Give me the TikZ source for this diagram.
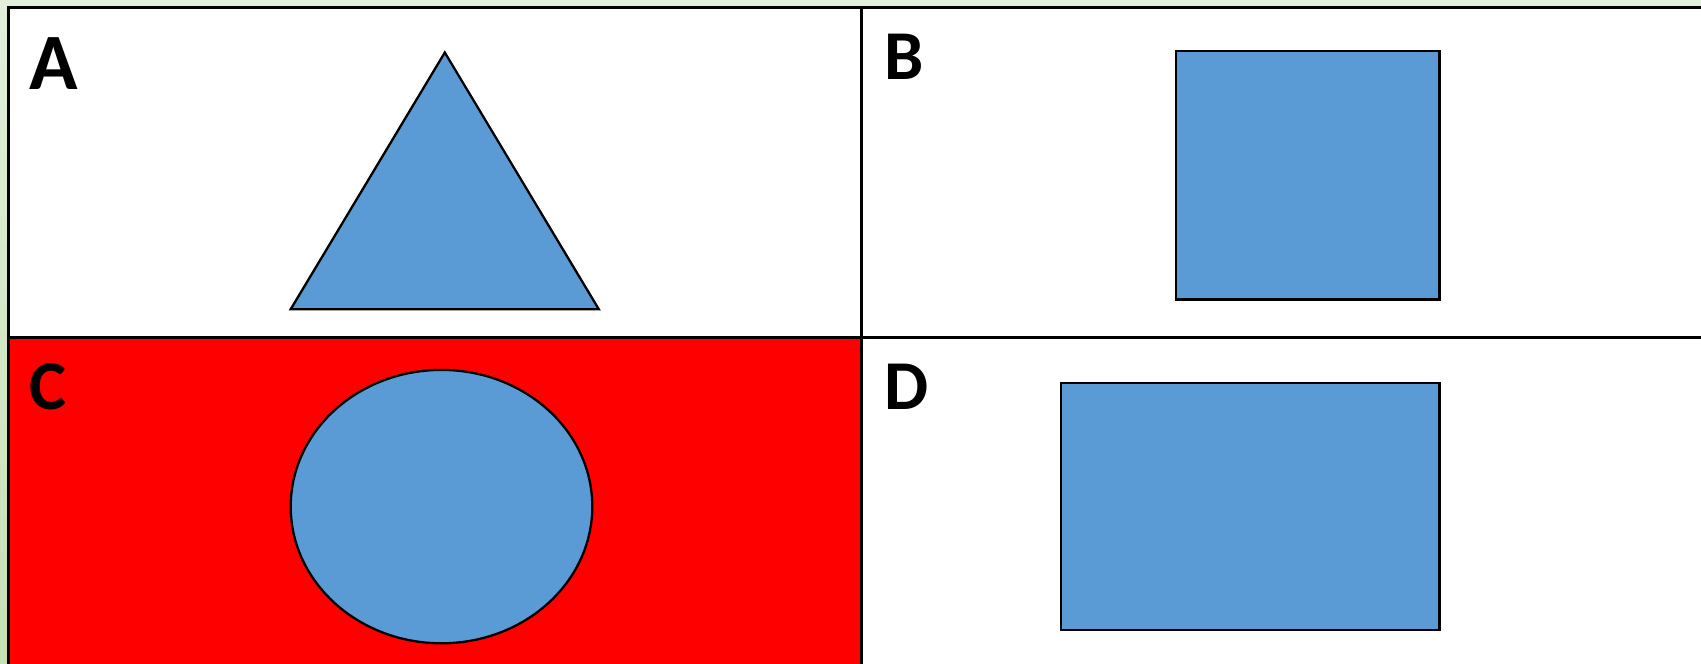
\documentclass[tikz,border=0pt]{standalone}
\usepackage{fontspec}
\setmainfont{Carlito}
\usetikzlibrary{shapes.geometric}
\definecolor{bgtop}{HTML}{E2EFDA}
\definecolor{bgbot}{HTML}{C5E0B4}
\definecolor{shapeblue}{HTML}{5B9BD5}
\tikzset{
  gridline/.style={line width=2.5pt, black},
  shapefill/.style={fill=shapeblue, draw=black, line width=2.3pt, line join=miter},
  lbl/.style={inner sep=0pt, anchor=base west, font=\bfseries\fontsize{70}{70}\selectfont},
  lblbig/.style={inner sep=0pt, anchor=base west, font=\bfseries\fontsize{80}{80}\selectfont},
}
\begin{document}
\begin{tikzpicture}[x=1pt,y=-1pt]
\useasboundingbox (0,0) rectangle (1701,664);
\shade[top color=bgtop, bottom color=bgbot] (0,0) rectangle (1701,664);
% cells
\fill[white] (8.7,7.6) rectangle (1720,680);
\fill[red] (8.7,337.4) rectangle (861.3,680);
% grid
\draw[gridline] (8.7,680) -- (8.7,7.6) -- (1720,7.6);
\draw[gridline] (861.3,7.6) -- (861.3,680);
\draw[gridline] (8.7,337.4) -- (1720,337.4);
% shapes
\path[shapefill] (444.8,52.5) -- (598.8,309.2) -- (290.7,309.2) -- cycle;
\node[shapefill, inner sep=0pt, minimum width=263.6pt, minimum height=248.4pt] (sqB) at (1307.7,175.2) {};
\node[shapefill, ellipse, inner sep=0pt, minimum width=301.6pt, minimum height=273.4pt] (ellC) at (441.5,506.6) {};
\node[shapefill, inner sep=0pt, minimum width=378.5pt, minimum height=247.4pt] (rectD) at (1250.25,506.6) {};
% labels
\node[lblbig] (lA) at (29,89) {A};
\node[lbl] (lB) at (884,79) {B};
\node[lbl] (lC) at (29,409) {C};
\node[lbl] (lD) at (884,409) {D};
\end{tikzpicture}
\end{document}
